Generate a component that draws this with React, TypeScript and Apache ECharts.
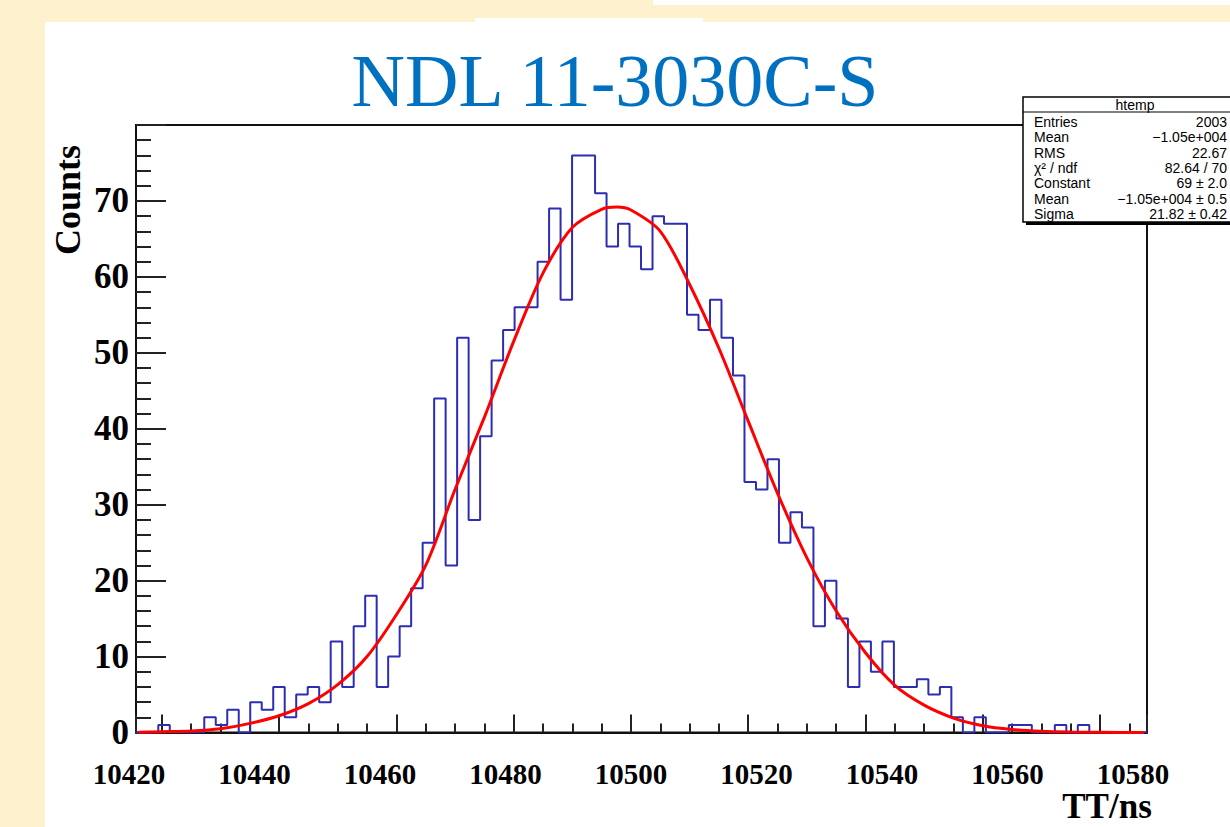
import React, { useEffect, useRef } from "react";
import * as echarts from "echarts";

// ---- data (TT in ns) ----
const binStart = 10415.48; // low edge of the first drawn bin
const binWidth = 1.96;
const counts = [
  0, 0, 1, 0, 0, 0, 2, 1, 3, 0, 4, 3, 6, 2, 5, 6, 4, 12, 6, 14, 18, 6, 10, 14,
  19, 25, 44, 22, 52, 28, 39, 49, 53, 56, 56, 62, 69, 57, 76, 76, 71, 64, 67,
  64, 61, 68, 67, 67, 55, 53, 57, 52, 47, 33, 32, 36, 25, 29, 27, 14, 20, 15, 6,
  12, 8, 12, 6, 6, 7, 5, 6, 2, 0, 2, 0, 0, 1, 1, 0, 0, 1, 0, 1, 0, 0, 0, 0, 0,
];

// Gaussian fit curve
const fitX = [
  10416, 10420, 10425, 10430, 10435, 10440, 10445, 10450, 10455, 10460, 10465,
  10470, 10475, 10480, 10485, 10490, 10495, 10497.6, 10500, 10505, 10510, 10515,
  10520, 10525, 10530, 10535, 10540, 10545, 10550, 10555, 10560, 10565, 10570,
  10575, 10580, 10587.5,
];
const fitY = [
  0.02, 0.1, 0.2, 0.5, 1.2, 2.2, 3.8, 6.3, 10.0, 15.5, 22.0, 32.0, 41.5, 51.5,
  60.5, 66.5, 68.9, 69.2, 68.8, 66.0, 59.0, 50.6, 41.0, 31.5, 23.0, 16.0, 10.5,
  6.2, 3.6, 1.9, 0.9, 0.4, 0.15, 0.05, 0.02, 0.0,
];

const xLabelTicks = [10420, 10440, 10460, 10480, 10500, 10520, 10540, 10560, 10580];
const yTicks = [0, 10, 20, 30, 40, 50, 60, 70, 80];
const frameX = [10415.6, 10588];

const statsLabels = ["Entries", "Mean", "RMS", "χ² / ndf", "Constant", "Mean", "Sigma"];
const statsValues = ["2003", "−1.05e+004", "22.67", "82.64 / 70", "69 ± 2.0", "−1.05e+004 ± 0.5", "21.82 ± 0.42"];

const serif = "'Times New Roman', 'Liberation Serif', 'DejaVu Serif', serif";
const sans = "Arial, 'Liberation Sans', Helvetica, sans-serif";

export default function App() {
  const ref = useRef<HTMLDivElement>(null);

  useEffect(() => {
    if (!ref.current) return;
    const chart = echarts.init(ref.current, undefined, { renderer: "svg" });

    const histData: number[][] = counts.map((c, i) => [binStart + i * binWidth, c]);
    histData.push([binStart + counts.length * binWidth, counts[counts.length - 1]]);
    const fitData = fitX.map((x, i) => [x, fitY[i]]);

    const rowY = [121.5, 137, 152.5, 167.8, 183.2, 198.5, 213.8];
    const statsChildren: any[] = [
      { type: "rect", z: 100, shape: { x: 1026, y: 100, width: 240, height: 125 }, style: { fill: "#000" } },
      { type: "rect", z: 101, shape: { x: 1023, y: 97, width: 240, height: 125 }, style: { fill: "#fff", stroke: "#000", lineWidth: 1.5 } },
      { type: "line", z: 102, shape: { x1: 1023, y1: 112, x2: 1240, y2: 112 }, style: { stroke: "#000", lineWidth: 1.2 } },
      {
        type: "text", z: 102, x: 1135, y: 105,
        style: { text: "htemp", font: `14px ${sans}`, fill: "#000", align: "center", verticalAlign: "middle", textAlign: "center", textVerticalAlign: "middle" },
      },
    ];
    statsLabels.forEach((lab, i) => {
      statsChildren.push({
        type: "text", z: 102, x: 1034, y: rowY[i],
        style: { text: lab, font: `14px ${sans}`, fill: "#000", align: "left", verticalAlign: "middle", textAlign: "left", textVerticalAlign: "middle" },
      });
      statsChildren.push({
        type: "text", z: 102, x: 1227, y: rowY[i],
        style: { text: statsValues[i], font: `14px ${sans}`, fill: "#000", align: "right", verticalAlign: "middle", textAlign: "right", textVerticalAlign: "middle" },
      });
    });

    const option: any = {
      animation: false,
      backgroundColor: "#FEF1CD",
      title: {
        text: "NDL 11-3030C-S",
        left: "center",
        top: 44,
        padding: 0,
        textStyle: { fontFamily: serif, fontSize: 74, fontWeight: "normal", color: "#0070C0", lineHeight: 74 },
      },
      graphic: [
        { type: "rect", z: -10, silent: true, shape: { x: 45, y: 22, width: 1185, height: 805 }, style: { fill: "#ffffff" } },
        { type: "rect", z: -10, silent: true, shape: { x: 653, y: 0, width: 577, height: 5 }, style: { fill: "#ffffff" } },
        { type: "rect", z: -10, silent: true, shape: { x: 475, y: 18, width: 228, height: 4 }, style: { fill: "#ffffff" } },
        {
          type: "text", z: 5, x: 68, y: 200, rotation: Math.PI / 2,
          style: { text: "Counts", font: `bold 36px ${serif}`, fill: "#000", align: "center", verticalAlign: "middle", textAlign: "center", textVerticalAlign: "middle" },
        },
        {
          type: "text", z: 5, x: 1107, y: 806,
          style: { text: "TT/ns", font: `bold 35px ${serif}`, fill: "#000", align: "center", verticalAlign: "middle", textAlign: "center", textVerticalAlign: "middle" },
        },
        ...statsChildren,
      ],
      grid: [
        { left: 136, top: 125, right: 83, bottom: 94.5, show: true, borderColor: "#111", borderWidth: 2, backgroundColor: "transparent" },
        { left: 129, top: 125, right: 97, bottom: 94.5, show: false },
      ],
      xAxis: [
        {
          type: "value", gridIndex: 0, position: "bottom", min: frameX[0], max: frameX[1],
          minInterval: 20, maxInterval: 20,
          axisLine: { show: true, lineStyle: { color: "#111", width: 2 } },
          axisTick: { show: true, inside: true, length: 18, lineStyle: { color: "#222", width: 2 } },
          axisLabel: { show: false },
          splitLine: { show: false },
        },
        {
          type: "value", gridIndex: 0, position: "bottom", min: frameX[0], max: frameX[1],
          minInterval: 5, maxInterval: 5,
          axisLine: { show: false },
          axisTick: { show: true, inside: true, length: 9, lineStyle: { color: "#222", width: 2 } },
          axisLabel: { show: false },
          splitLine: { show: false },
        },
        {
          type: "value", gridIndex: 1, position: "bottom",
          min: xLabelTicks[0], max: xLabelTicks[xLabelTicks.length - 1], interval: xLabelTicks[1] - xLabelTicks[0],
          axisLine: { show: false },
          axisTick: { show: false },
          splitLine: { show: false },
          axisLabel: {
            fontFamily: serif, fontWeight: "bold", fontSize: 29, lineHeight: 29, color: "#000", margin: 27,
            formatter: (v: number) => String(v),
          },
        },
      ],
      yAxis: [
        {
          type: "value", gridIndex: 0, min: yTicks[0], max: yTicks[yTicks.length - 1], interval: yTicks[1] - yTicks[0],
          axisLine: { show: true, lineStyle: { color: "#111", width: 2 } },
          axisTick: { show: true, inside: true, length: 30, lineStyle: { color: "#222", width: 2 } },
          minorTick: { show: true, splitNumber: 5, length: 15, lineStyle: { color: "#222", width: 2 } },
          splitLine: { show: false },
          axisLabel: { fontFamily: serif, fontWeight: "bold", fontSize: 35, color: "#000", margin: 7, showMaxLabel: false },
        },
        { type: "value", gridIndex: 1, min: 0, max: 80, show: false },
      ],
      series: [
        {
          type: "line", name: "htemp", xAxisIndex: 0, yAxisIndex: 0, step: "end", symbol: "none",
          data: histData, lineStyle: { color: "#2d2db4", width: 2 }, z: 3, clip: true,
        },
        {
          type: "line", name: "fit", xAxisIndex: 0, yAxisIndex: 0, smooth: 0.3, symbol: "none",
          data: fitData, lineStyle: { color: "#ff0000", width: 3 }, z: 4, clip: true,
        },
      ],
    };

    chart.setOption(option);
    return () => chart.dispose();
  }, []);

  return <div ref={ref} style={{ position: "absolute", left: 0, top: 0, width: 1230, height: 827 }} />;
}
